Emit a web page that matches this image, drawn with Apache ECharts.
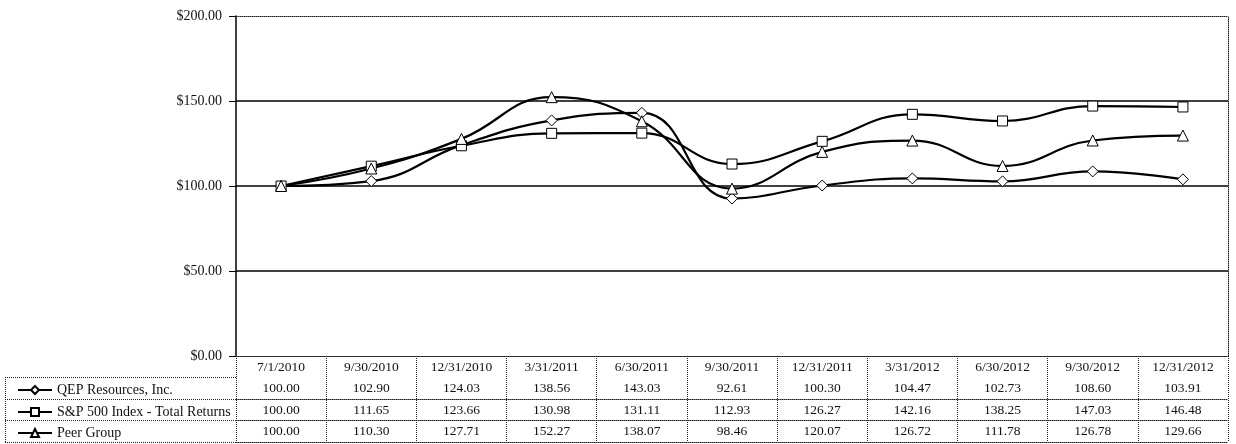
<!DOCTYPE html>
<html lang="en">
<head>
    <meta charset="UTF-8">
    <title>Total Return Comparison</title>
    <script type="text/javascript" src="https://cdn.jsdelivr.net/npm/echarts@6/dist/echarts.min.js"></script>
    <style>
        html, body { margin: 0; padding: 0; background: #fff; }
        #chart { width: 1236px; height: 444px; }
    </style>
</head>
<body>
<div id="chart"></div>
<script>
    // data
    var dates = ['7/1/2010', '9/30/2010', '12/31/2010', '3/31/2011', '6/30/2011', '9/30/2011',
        '12/31/2011', '3/31/2012', '6/30/2012', '9/30/2012', '12/31/2012'];
    var qep = [100.00, 102.90, 124.03, 138.56, 143.03, 92.61, 100.30, 104.47, 102.73, 108.60, 103.91];
    var sp500 = [100.00, 111.65, 123.66, 130.98, 131.11, 112.93, 126.27, 142.16, 138.25, 147.03, 146.48];
    var peer = [100.00, 110.30, 127.71, 152.27, 138.07, 98.46, 120.07, 126.72, 111.78, 126.78, 129.66];
    var seriesNames = ['QEP Resources, Inc.', 'S&P 500 Index - Total Returns', 'Peer Group'];
    var yTicks = [0, 50, 100, 150, 200];

    var FONT = 'Liberation Serif';
    var dotted = {color: '#222', width: 1, type: [1, 1]};

    var chart = echarts.init(document.getElementById('chart'));

    function fmt(v) {
        return v.toFixed(2);
    }

    // one category axis per table row, stacked below the plot
    function rowAxis(values, offset) {
        return {
            type: 'category',
            gridIndex: 0,
            position: 'bottom',
            offset: offset,
            data: values ? values.map(fmt) : dates,
            axisLine: {show: true, lineStyle: dotted},
            axisTick: {show: false},
            axisLabel: {
                show: !!values, interval: 0, margin: 4,
                color: '#111', fontFamily: FONT, fontSize: 13.5
            }
        };
    }

    var rowTop = [356, 377, 399, 420, 442];
    var leftCol = [];
    for (var i = 1; i < rowTop.length; i++) {
        leftCol.push({
            type: 'line', silent: true,
            shape: {x1: 5, y1: rowTop[i] + 0.5, x2: 236, y2: rowTop[i] + 0.5},
            style: {stroke: '#222', lineWidth: 1, lineDash: [1, 1]}
        });
    }
    leftCol.push({
        type: 'line', silent: true,
        shape: {x1: 5.5, y1: 377, x2: 5.5, y2: 442},
        style: {stroke: '#222', lineWidth: 1, lineDash: [1, 1]}
    });

    // one legend per row of the table
    var legends = seriesNames.map(function (name, k) {
        return {
            orient: 'horizontal',
            left: 12,
            top: rowTop[k + 1] + 1,
            itemWidth: 34,
            itemHeight: 10,
            selectedMode: false,
            data: [name],
            textStyle: {color: '#111', fontFamily: FONT, fontSize: 14}
        };
    });

    var symbols = ['diamond', 'rect', 'triangle'];
    var allData = [qep, sp500, peer];

    var option = {
        animation: false,
        backgroundColor: '#fff',
        grid: {left: 236, right: 8, top: 16, bottom: 88, containLabel: false},
        legend: legends,
        xAxis: [
            {
                type: 'category',
                gridIndex: 0,
                position: 'bottom',
                data: dates,
                boundaryGap: true,
                axisLine: {show: true, lineStyle: dotted},
                axisTick: {show: true, interval: 0, alignWithLabel: false, length: 86, lineStyle: dotted},
                axisLabel: {interval: 0, margin: 4, color: '#111', fontFamily: FONT, fontSize: 13.5}
            },
            rowAxis(qep, 21),
            rowAxis(sp500, 43),
            rowAxis(peer, 64),
            rowAxis(null, 86),
            {
                type: 'category',
                gridIndex: 0,
                position: 'top',
                data: dates,
                axisLine: {show: true, lineStyle: dotted},
                axisTick: {show: false},
                axisLabel: {show: false}
            }
        ],
        yAxis: [
            {
                type: 'value',
                min: yTicks[0],
                max: yTicks[yTicks.length - 1],
                interval: 50,
                axisLine: {show: true, lineStyle: {color: '#000', width: 1.5}},
                axisTick: {show: true, length: 7, lineStyle: {color: '#000'}},
                axisLabel: {
                    margin: 14, color: '#111', fontFamily: FONT, fontSize: 14,
                    formatter: function (v) { return '$' + v.toFixed(2); }
                },
                splitLine: {
                    show: true,
                    lineStyle: {color: ['rgba(0,0,0,0)', '#000', '#000', '#000', 'rgba(0,0,0,0)'], width: 1.5}
                }
            },
            {
                type: 'value',
                position: 'right',
                min: 0, max: 200, interval: 50,
                axisLine: {show: true, lineStyle: dotted},
                axisTick: {show: false},
                axisLabel: {show: false},
                splitLine: {show: false}
            }
        ],
        graphic: leftCol,
        series: seriesNames.map(function (name, k) {
            return {
                name: name,
                type: 'line',
                xAxisIndex: 0,
                yAxisIndex: 0,
                data: allData[k],
                smooth: 0.45,
                symbol: symbols[k],
                symbolSize: k === 1 ? 10 : 11,
                color: '#000',
                lineStyle: {color: '#000', width: 2.2},
                itemStyle: {color: '#fff', borderColor: '#000', borderWidth: 1},
                z: 3
            };
        })
    };

    chart.setOption(option);
</script>
</body>
</html>
